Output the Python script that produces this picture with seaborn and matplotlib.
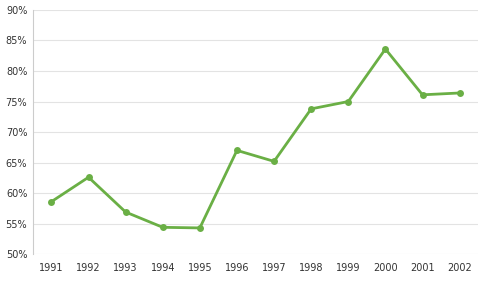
import pandas as pd
import matplotlib
matplotlib.use('Agg')
import matplotlib.pyplot as plt
import seaborn as sns
from matplotlib.ticker import FuncFormatter

years = ['1991', '1992', '1993', '1994', '1995', '1996', '1997', '1998', '1999', '2000', '2001', '2002']
values = [58.6, 62.6, 56.9, 54.4, 54.3, 67.0, 65.2, 73.8, 75.0, 83.6, 76.1, 76.4]

df = pd.DataFrame({'year': years, 'value': values})

sns.set_style('white')
plt.rcParams['font.family'] = ['Liberation Sans Narrow', 'DejaVu Sans']

fig, ax = plt.subplots(figsize=(4.83, 2.84), dpi=100)
fig.subplots_adjust(left=0.068, right=0.99, top=0.965, bottom=0.105)

sns.lineplot(data=df, x='year', y='value', ax=ax, color='#6aaf45', linewidth=2.0,
             marker='o', markersize=5, markeredgewidth=0, sort=False)

ax.set_ylim(50, 90)
ax.set_yticks(range(50, 91, 5))
ax.yaxis.set_major_formatter(FuncFormatter(lambda v, p: f'{int(v)}%'))
ax.set_xlim(-0.5, len(years) - 0.5)
ax.grid(axis='y', color='#e3e3e3', linewidth=0.8)
ax.set_axisbelow(True)
for s in ['top', 'right', 'bottom']:
    ax.spines[s].set_visible(False)
ax.spines['left'].set_color('#cccccc')
ax.spines['left'].set_linewidth(0.8)
ax.tick_params(axis='both', length=0, labelsize=7, colors='#333333', pad=6)
ax.tick_params(axis='y', pad=4)
ax.set_xlabel('')
ax.set_ylabel('')

plt.savefig('out.png', dpi=100)
